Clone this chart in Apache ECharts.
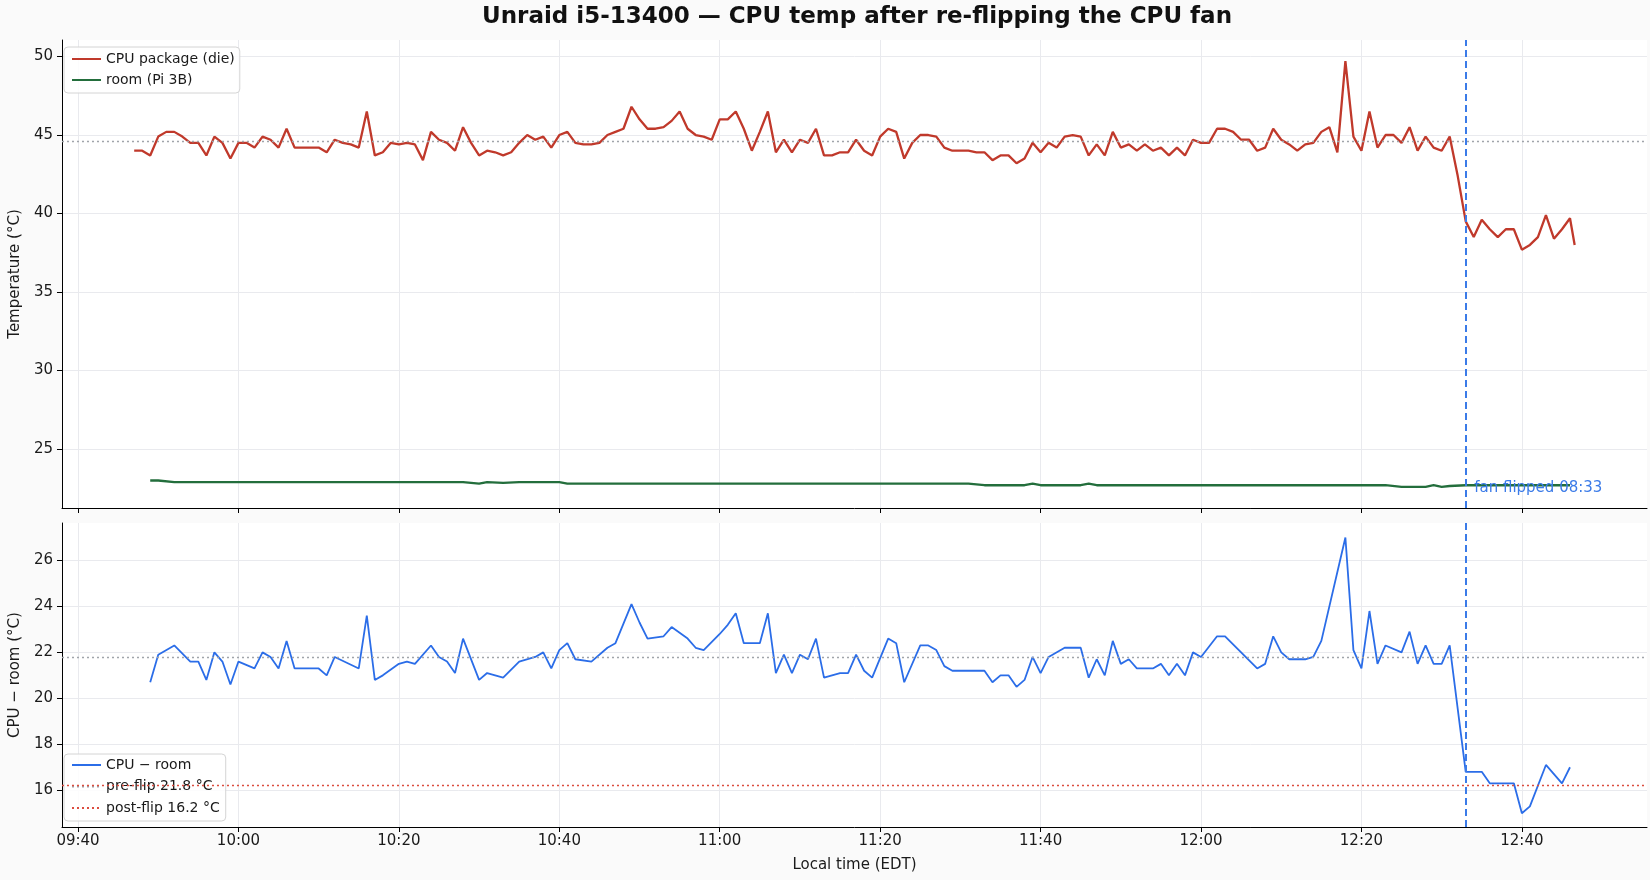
<!DOCTYPE html>
<html>
<head>
<meta charset="utf-8">
<script src="https://cdn.jsdelivr.net/npm/echarts@6/dist/echarts.min.js"></script>
<style>
    html, body { margin: 0; padding: 0; background: #fafafa; }
    #chart { width: 1650px; height: 880px; }
</style>
</head>
<body>
<div id="chart"></div>
<script>
// CPU package (die), one reading per minute, local time
const cpuTimes = [
    '09:47', '09:48', '09:49', '09:50', '09:51', '09:52', '09:53', '09:54', '09:55', '09:56', '09:57', '09:58', '09:59',
    '10:00', '10:01', '10:02', '10:03', '10:04', '10:05', '10:06', '10:07', '10:08', '10:09', '10:10', '10:11', '10:12',
    '10:13', '10:14', '10:15', '10:16', '10:17', '10:18', '10:19', '10:20', '10:21', '10:22', '10:23', '10:24', '10:25',
    '10:26', '10:27', '10:28', '10:29', '10:30', '10:31', '10:32', '10:33', '10:34', '10:35', '10:36', '10:37', '10:38',
    '10:39', '10:40', '10:41', '10:42', '10:43', '10:44', '10:45', '10:46', '10:47', '10:48', '10:49', '10:50', '10:51',
    '10:52', '10:53', '10:54', '10:55', '10:56', '10:57', '10:58', '10:59', '11:00', '11:01', '11:02', '11:03', '11:04',
    '11:05', '11:06', '11:07', '11:08', '11:09', '11:10', '11:11', '11:12', '11:13', '11:14', '11:15', '11:16', '11:17',
    '11:18', '11:19', '11:20', '11:21', '11:22', '11:23', '11:24', '11:25', '11:26', '11:27', '11:28', '11:29', '11:30',
    '11:31', '11:32', '11:33', '11:34', '11:35', '11:36', '11:37', '11:38', '11:39', '11:40', '11:41', '11:42', '11:43',
    '11:44', '11:45', '11:46', '11:47', '11:48', '11:49', '11:50', '11:51', '11:52', '11:53', '11:54', '11:55', '11:56',
    '11:57', '11:58', '11:59', '12:00', '12:01', '12:02', '12:03', '12:04', '12:05', '12:06', '12:07', '12:08', '12:09',
    '12:10', '12:11', '12:12', '12:13', '12:14', '12:15', '12:16', '12:17', '12:18', '12:19', '12:20', '12:21', '12:22',
    '12:23', '12:24', '12:25', '12:26', '12:27', '12:28', '12:29', '12:30', '12:31', '12:32', '12:33', '12:34', '12:35',
    '12:36', '12:37', '12:38', '12:39', '12:40', '12:41', '12:42', '12:43', '12:44', '12:45', '12:46', '12:46:35'
];
const cpuTemps = [
    44.0, 44.0, 43.7, 44.9, 45.2, 45.2, 44.9, 44.5, 44.5, 43.7, 44.9, 44.5, 43.5,
    44.5, 44.5, 44.2, 44.9, 44.7, 44.2, 45.4, 44.2, 44.2, 44.2, 44.2, 43.9, 44.7,
    44.5, 44.4, 44.2, 46.5, 43.7, 43.9, 44.5, 44.4, 44.5, 44.4, 43.4, 45.2, 44.7,
    44.5, 44.0, 45.5, 44.5, 43.7, 44.0, 43.9, 43.7, 43.9, 44.5, 45.0, 44.7, 44.9,
    44.2, 45.0, 45.2, 44.5, 44.4, 44.4, 44.5, 45.0, 45.2, 45.4, 46.8, 46.0, 45.4,
    45.4, 45.5, 45.9, 46.5, 45.4, 45.0, 44.9, 44.7, 46.0, 46.0, 46.5, 45.4, 44.0,
    45.2, 46.5, 43.9, 44.7, 43.9, 44.7, 44.5, 45.4, 43.7, 43.7, 43.9, 43.9, 44.7,
    44.0, 43.7, 44.9, 45.4, 45.2, 43.5, 44.5, 45.0, 45.0, 44.9, 44.2, 44.0, 44.0,
    44.0, 43.9, 43.9, 43.4, 43.7, 43.7, 43.2, 43.5, 44.5, 43.9, 44.5, 44.2, 44.9,
    45.0, 44.9, 43.7, 44.4, 43.7, 45.2, 44.2, 44.4, 44.0, 44.4, 44.0, 44.2, 43.7,
    44.2, 43.7, 44.7, 44.5, 44.5, 45.4, 45.4, 45.2, 44.7, 44.7, 44.0, 44.2, 45.4,
    44.7, 44.4, 44.0, 44.4, 44.5, 45.2, 45.5, 43.9, 49.7, 44.9, 44.0, 46.5, 44.2,
    45.0, 45.0, 44.5, 45.5, 44.0, 44.9, 44.2, 44.0, 44.9, 42.4, 39.5, 38.5, 39.6,
    39.0, 38.5, 39.0, 39.0, 37.7, 38.0, 38.5, 39.9, 38.4, 39.0, 39.7, 38.0
];

// Room sensor (Pi 3B) sample times; CPU − room is taken at the same times
const roomTimes = [
    '09:49', '09:50', '09:52', '09:54', '09:55', '09:56', '09:57', '09:58', '09:59', '10:00', '10:02', '10:03',
    '10:04', '10:05', '10:06', '10:07', '10:10', '10:11', '10:12', '10:15', '10:16', '10:17', '10:18', '10:20',
    '10:21', '10:22', '10:24', '10:25', '10:26', '10:27', '10:28', '10:30', '10:31', '10:33', '10:35', '10:37',
    '10:38', '10:39', '10:40', '10:41', '10:42', '10:44', '10:46', '10:47', '10:49', '10:50', '10:51', '10:53',
    '10:54', '10:56', '10:57', '10:58', '11:00', '11:01', '11:02', '11:03', '11:05', '11:06', '11:07', '11:08',
    '11:09', '11:10', '11:11', '11:12', '11:13', '11:15', '11:16', '11:17', '11:18', '11:19', '11:21', '11:22',
    '11:23', '11:25', '11:26', '11:27', '11:28', '11:29', '11:31', '11:33', '11:34', '11:35', '11:36', '11:37',
    '11:38', '11:39', '11:40', '11:41', '11:43', '11:45', '11:46', '11:47', '11:48', '11:49', '11:50', '11:51',
    '11:52', '11:54', '11:55', '11:56', '11:57', '11:58', '11:59', '12:00', '12:02', '12:03', '12:07', '12:08',
    '12:09', '12:10', '12:11', '12:13', '12:14', '12:15', '12:18', '12:19', '12:20', '12:21', '12:22', '12:23',
    '12:25', '12:26', '12:27', '12:28', '12:29', '12:30', '12:31', '12:33', '12:35', '12:36', '12:39', '12:40',
    '12:41', '12:43', '12:45', '12:46'
];
const roomTemps = [
    23.0, 23.0, 22.9, 22.9, 22.9, 22.9, 22.9, 22.9, 22.9, 22.9, 22.9, 22.9,
    22.9, 22.9, 22.9, 22.9, 22.9, 22.9, 22.9, 22.9, 22.9, 22.9, 22.9, 22.9,
    22.9, 22.9, 22.9, 22.9, 22.9, 22.9, 22.9, 22.8, 22.9, 22.85, 22.9, 22.9,
    22.9, 22.9, 22.9, 22.8, 22.8, 22.8, 22.8, 22.8, 22.8, 22.8, 22.8, 22.8,
    22.8, 22.8, 22.8, 22.8, 22.8, 22.8, 22.8, 22.8, 22.8, 22.8, 22.8, 22.8,
    22.8, 22.8, 22.8, 22.8, 22.8, 22.8, 22.8, 22.8, 22.8, 22.8, 22.8, 22.8,
    22.8, 22.8, 22.8, 22.8, 22.8, 22.8, 22.8, 22.7, 22.7, 22.7, 22.7, 22.7,
    22.7, 22.8, 22.7, 22.7, 22.7, 22.7, 22.8, 22.7, 22.7, 22.7, 22.7, 22.7,
    22.7, 22.7, 22.7, 22.7, 22.7, 22.7, 22.7, 22.7, 22.7, 22.7, 22.7, 22.7,
    22.7, 22.7, 22.7, 22.7, 22.7, 22.7, 22.7, 22.7, 22.7, 22.7, 22.7, 22.7,
    22.6, 22.6, 22.6, 22.6, 22.7, 22.6, 22.65, 22.7, 22.7, 22.7, 22.7, 22.7,
    22.7, 22.7, 22.7, 22.7
];
const deltaTemps = [
    20.7, 21.9, 22.3, 21.6, 21.6, 20.8, 22.0, 21.6, 20.6, 21.6, 21.3, 22.0,
    21.8, 21.3, 22.5, 21.3, 21.3, 21.0, 21.8, 21.3, 23.6, 20.8, 21.0, 21.5,
    21.6, 21.5, 22.3, 21.8, 21.6, 21.1, 22.6, 20.8, 21.1, 20.9, 21.6, 21.8,
    22.0, 21.3, 22.1, 22.4, 21.7, 21.6, 22.2, 22.4, 24.1, 23.3, 22.6, 22.7,
    23.1, 22.6, 22.2, 22.1, 22.8, 23.2, 23.7, 22.4, 22.4, 23.7, 21.1, 21.9,
    21.1, 21.9, 21.7, 22.6, 20.9, 21.1, 21.1, 21.9, 21.2, 20.9, 22.6, 22.4,
    20.7, 22.3, 22.3, 22.1, 21.4, 21.2, 21.2, 21.2, 20.7, 21.0, 21.0, 20.5,
    20.8, 21.8, 21.1, 21.8, 22.2, 22.2, 20.9, 21.7, 21.0, 22.5, 21.5, 21.7,
    21.3, 21.3, 21.5, 21.0, 21.5, 21.0, 22.0, 21.8, 22.7, 22.7, 21.3, 21.5,
    22.7, 22.0, 21.7, 21.7, 21.8, 22.5, 27.0, 22.1, 21.3, 23.8, 21.5, 22.3,
    22.0, 22.9, 21.5, 22.3, 21.5, 21.5, 22.3, 16.8, 16.8, 16.3, 16.3, 15.0,
    15.3, 17.1, 16.3, 17.0
];

// Reference levels and the fan flip
const preFlipCpu = 44.6;
const preFlipDelta = 21.8;
const postFlipDelta = 16.2;
const flipTime = '12:33';
const flipLabel = 'fan flipped 08:33';

// Tick labels
const xTicks = ['09:40', '10:00', '10:20', '10:40', '11:00', '11:20', '11:40', '12:00', '12:20', '12:40'];
const topTicks = [25, 30, 35, 40, 45, 50];
const bottomTicks = [16, 18, 20, 22, 24, 26];

const COLORS = {
    cpu: '#c0392b',
    room: '#236e3c',
    delta: '#2b6de8',
    flip: '#3b7be8',
    pre: '#a0a4aa',
    post: '#dc4c3e',
    grid: '#e9eaee',
    text: '#1a1a1a'
};
const FONT = 'DejaVu Sans';

// minutes after 09:00, so the x axis is a plain value axis
function toMin(t) {
    const p = t.split(':').map(Number);
    return (p[0] - 9) * 60 + p[1] + (p[2] || 0) / 60;
}
function fmtMin(m) {
    const h = 9 + Math.floor(m / 60);
    const mm = Math.round(m - Math.floor(m / 60) * 60);
    return String(h).padStart(2, '0') + ':' + String(mm).padStart(2, '0');
}

const xTickValues = xTicks.map(toMin);
const X_MIN = 38.0;
const X_MAX = 235.6;

function xAxisFor(gridIndex, showLabels) {
    return {
        type: 'value',
        gridIndex: gridIndex,
        min: X_MIN,
        max: X_MAX,
        name: showLabels ? 'Local time (EDT)' : '',
        nameLocation: 'middle',
        nameGap: 31,
        nameTextStyle: { color: COLORS.text, fontFamily: FONT, fontSize: 15 },
        axisLine: { show: true, onZero: false, lineStyle: { color: '#000', width: 1 } },
        axisTick: { show: true, length: 5, customValues: xTickValues, lineStyle: { color: '#000' } },
        axisLabel: {
            show: showLabels,
            customValues: xTickValues,
            formatter: v => fmtMin(v),
            color: COLORS.text,
            fontFamily: FONT,
            fontSize: 15,
            margin: 7
        },
        splitLine: { show: true, lineStyle: { color: COLORS.grid, width: 1 } }
    };
}

function yAxisFor(gridIndex, min, max, ticks, name) {
    return {
        type: 'value',
        gridIndex: gridIndex,
        min: min,
        max: max,
        name: name,
        nameLocation: 'middle',
        nameGap: 38,
        nameTextStyle: { color: COLORS.text, fontFamily: FONT, fontSize: 15 },
        axisLine: { show: true, lineStyle: { color: '#000', width: 1 } },
        axisTick: { show: true, length: 5, customValues: ticks, lineStyle: { color: '#000' } },
        axisLabel: { customValues: ticks, color: COLORS.text, fontFamily: FONT, fontSize: 15, margin: 9 },
        splitLine: { show: true, lineStyle: { color: COLORS.grid, width: 1 } }
    };
}

// matplotlib-like legend box: line icons only, no marker
const legendBase = {
    orient: 'vertical',
    left: 64,
    backgroundColor: 'rgba(255,255,255,0.85)',
    borderColor: '#d4d4d4',
    borderWidth: 1,
    borderRadius: 4,
    itemWidth: 29,
    itemHeight: 14,
    itemGap: 7,
    itemStyle: { opacity: 0 },
    textStyle: { color: COLORS.text, fontFamily: FONT, fontSize: 14 }
};

const chart = echarts.init(document.getElementById('chart'));

const option = {
    backgroundColor: '#fafafa',
    animation: false,
    title: {
        text: 'Unraid i5-13400 — CPU temp after re-flipping the CPU fan',
        left: 852,
        top: 1,
        textAlign: 'center',
        textStyle: { fontFamily: FONT, fontWeight: 'bold', fontSize: 23, color: '#111' }
    },
    legend: [
        Object.assign({}, legendBase, {
            top: 47,
            padding: [5, 5, 6, 7],
            data: ['CPU package (die)', 'room (Pi 3B)']
        }),
        Object.assign({}, legendBase, {
            top: 754,
            padding: [4, 6, 6, 7],
            itemGap: 7.5,
            data: ['CPU − room', 'pre-flip 21.8 °C', 'post-flip 16.2 °C']
        })
    ],
    grid: [
        { left: 58, right: 3, top: 40, height: 468, show: true, backgroundColor: '#ffffff', borderWidth: 0 },
        { left: 58, right: 3, top: 523, height: 304, show: true, backgroundColor: '#ffffff', borderWidth: 0 }
    ],
    xAxis: [xAxisFor(0, false), xAxisFor(1, true)],
    yAxis: [
        yAxisFor(0, 21.25, 51.05, topTicks, 'Temperature (°C)'),
        yAxisFor(1, 14.4, 27.63, bottomTicks, 'CPU − room (°C)')
    ],
    series: [
        {
            name: 'CPU package (die)',
            type: 'line',
            xAxisIndex: 0,
            yAxisIndex: 0,
            symbol: 'none',
            color: COLORS.cpu,
            lineStyle: { color: COLORS.cpu, width: 2.3 },
            data: cpuTimes.map((t, i) => [toMin(t), cpuTemps[i]]),
            markLine: {
                silent: true,
                symbol: 'none',
                label: { show: false },
                lineStyle: { color: COLORS.pre, type: [2, 3], width: 1.3 },
                data: [{ yAxis: preFlipCpu }]
            },
            z: 3
        },
        {
            name: 'room (Pi 3B)',
            type: 'line',
            xAxisIndex: 0,
            yAxisIndex: 0,
            symbol: 'none',
            color: COLORS.room,
            lineStyle: { color: COLORS.room, width: 2.3 },
            data: roomTimes.map((t, i) => [toMin(t), roomTemps[i]]),
            markLine: {
                silent: true,
                symbol: 'none',
                label: { show: false },
                lineStyle: { color: COLORS.flip, type: [7, 4], width: 2 },
                data: [{ xAxis: toMin(flipTime) }]
            },
            markPoint: {
                silent: true,
                symbol: 'circle',
                symbolSize: 1,
                itemStyle: { color: 'rgba(0,0,0,0)' },
                label: {
                    show: true,
                    position: 'right',
                    distance: 8,
                    formatter: flipLabel,
                    color: COLORS.flip,
                    fontFamily: FONT,
                    fontSize: 15
                },
                data: [{ coord: [toMin(flipTime), 22.52] }]
            },
            z: 3
        },
        {
            name: 'CPU − room',
            type: 'line',
            xAxisIndex: 1,
            yAxisIndex: 1,
            symbol: 'none',
            color: COLORS.delta,
            lineStyle: { color: COLORS.delta, width: 1.8 },
            data: roomTimes.map((t, i) => [toMin(t), deltaTemps[i]]),
            markLine: {
                silent: true,
                symbol: 'none',
                label: { show: false },
                lineStyle: { color: COLORS.flip, type: [7, 4], width: 2 },
                data: [{ xAxis: toMin(flipTime) }]
            },
            z: 3
        },
        {
            name: 'pre-flip 21.8 °C',
            type: 'line',
            xAxisIndex: 1,
            yAxisIndex: 1,
            symbol: 'none',
            color: COLORS.pre,
            lineStyle: { color: COLORS.pre, type: [2, 3], width: 1.3 },
            data: [],
            markLine: {
                silent: true,
                symbol: 'none',
                label: { show: false },
                lineStyle: { color: COLORS.pre, type: [2, 3], width: 1.3 },
                data: [{ yAxis: preFlipDelta }]
            }
        },
        {
            name: 'post-flip 16.2 °C',
            type: 'line',
            xAxisIndex: 1,
            yAxisIndex: 1,
            symbol: 'none',
            color: COLORS.post,
            lineStyle: { color: COLORS.post, type: [2, 3], width: 1.3 },
            data: [],
            markLine: {
                silent: true,
                symbol: 'none',
                label: { show: false },
                lineStyle: { color: COLORS.post, type: [2, 3], width: 1.3 },
                data: [{ yAxis: postFlipDelta }]
            }
        }
    ]
};

chart.setOption(option);
window.addEventListener('resize', () => chart.resize());
</script>
</body>
</html>
